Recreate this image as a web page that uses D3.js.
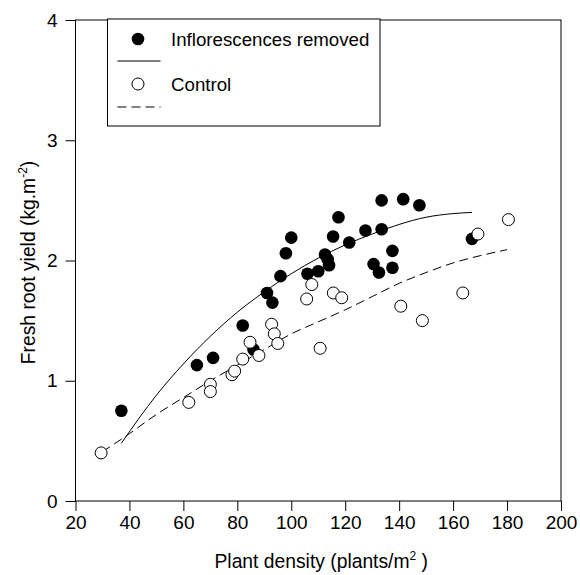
<!DOCTYPE html>
<html>
<head>
<meta charset="utf-8">
<script src="https://cdn.jsdelivr.net/npm/d3@7"></script>
<style>
  body { margin: 0; background: #fff; }
  text { font-family: "Liberation Sans", Arial, sans-serif; fill: #000; }
</style>
</head>
<body>
<div id="chart"></div>
<script>
// data
var xTicks = [20, 40, 60, 80, 100, 120, 140, 160, 180, 200];
var yTicks = [0, 1, 2, 3, 4];

// inflorescences removed (filled dots)
var removedX = [37, 65, 71, 82, 86, 91, 93, 96, 98, 100, 106, 110, 112.5, 113.5, 114,
  115.5, 117.5, 121.5, 127.5, 133.5, 141.5, 147.5, 133.5, 137.5, 130.5, 132.5, 137.5, 167];
var removedY = [0.75, 1.13, 1.19, 1.46, 1.26, 1.73, 1.65, 1.87, 2.06, 2.19, 1.89, 1.91, 2.05, 2.01, 1.96,
  2.20, 2.36, 2.15, 2.25, 2.50, 2.51, 2.46, 2.26, 2.08, 1.97, 1.90, 1.94, 2.18];

// control (open dots)
var controlX = [29.5, 62, 70, 70, 78, 79, 82, 84.7, 88, 92.7, 93.7, 95, 105.7, 107.6,
  110.7, 115.6, 118.7, 140.6, 148.6, 163.6, 169.2, 180.5];
var controlY = [0.40, 0.82, 0.97, 0.91, 1.05, 1.08, 1.18, 1.32, 1.21, 1.47, 1.39, 1.31, 1.68, 1.80,
  1.27, 1.73, 1.69, 1.62, 1.50, 1.73, 2.22, 2.34];

// fitted curves
var fitRemovedX = [37, 50, 60, 70, 80, 90, 100, 110, 120, 130, 140, 150, 160, 167];
var fitRemovedY = [0.48, 0.88, 1.14, 1.37, 1.57, 1.74, 1.89, 2.02, 2.13, 2.22, 2.30, 2.36, 2.39, 2.40];
var fitControlX = [30, 40, 50, 60, 70, 80, 90, 100, 110, 120, 130, 140, 150, 160, 170, 180];
var fitControlY = [0.41, 0.56, 0.72, 0.86, 1.00, 1.13, 1.26, 1.39, 1.49, 1.59, 1.70, 1.81, 1.90, 1.98, 2.04, 2.09];

var svgWidth = 580, svgHeight = 575;
var margin = { top: 20, right: 19, bottom: 74, left: 75.5 };
var width = svgWidth - margin.left - margin.right;
var height = svgHeight - margin.top - margin.bottom;

var svg = d3.select("#chart").append("svg")
  .attr("width", svgWidth)
  .attr("height", svgHeight);

var chartGroup = svg.append("g")
  .attr("transform", `translate(${margin.left}, ${margin.top})`);

var xScale = d3.scaleLinear().domain([20, 200]).range([0, width]);
var yScale = d3.scaleLinear().domain([0, 4]).range([height, 0]);

// frame
chartGroup.append("rect")
  .attr("width", width)
  .attr("height", height)
  .attr("fill", "none")
  .attr("stroke", "#000")
  .attr("stroke-width", 1);

// axes
var xAxis = d3.axisBottom(xScale).tickValues(xTicks).tickFormat(d3.format("d"))
  .tickSize(10).tickPadding(5);
var yAxis = d3.axisLeft(yScale).tickValues(yTicks).tickFormat(d3.format("d"))
  .tickSize(10).tickPadding(8);

var gx = chartGroup.append("g")
  .attr("transform", `translate(0, ${height})`)
  .call(xAxis);
var gy = chartGroup.append("g").call(yAxis);

[gx, gy].forEach(function(g) {
  g.select(".domain").remove();
  g.selectAll("line").attr("stroke", "#000");
  g.selectAll("text")
    .style("font-size", "19px")
    .style("font-family", "Liberation Sans, Arial, sans-serif")
    .attr("fill", "#000");
});

// fitted lines
var line = d3.line()
  .x(d => xScale(d[0]))
  .y(d => yScale(d[1]))
  .curve(d3.curveMonotoneX);

chartGroup.append("path")
  .datum(d3.zip(fitRemovedX, fitRemovedY))
  .attr("d", line)
  .attr("fill", "none")
  .attr("stroke", "#000")
  .attr("stroke-width", 1);

chartGroup.append("path")
  .datum(d3.zip(fitControlX, fitControlY))
  .attr("d", line)
  .attr("fill", "none")
  .attr("stroke", "#000")
  .attr("stroke-width", 1)
  .attr("stroke-dasharray", "9,5");

// points
chartGroup.selectAll("circle.removed")
  .data(d3.zip(removedX, removedY))
  .enter()
  .append("circle")
  .classed("removed", true)
  .attr("cx", d => xScale(d[0]))
  .attr("cy", d => yScale(d[1]))
  .attr("r", 6.3)
  .attr("fill", "#000");

chartGroup.selectAll("circle.control")
  .data(d3.zip(controlX, controlY))
  .enter()
  .append("circle")
  .classed("control", true)
  .attr("cx", d => xScale(d[0]))
  .attr("cy", d => yScale(d[1]))
  .attr("r", 6)
  .attr("fill", "#fff")
  .attr("stroke", "#000")
  .attr("stroke-width", 1);

// legend
var legend = svg.append("g").attr("transform", "translate(107.5, 19)");
legend.append("rect")
  .attr("width", 272.5)
  .attr("height", 107)
  .attr("fill", "#fff")
  .attr("stroke", "#000")
  .attr("stroke-width", 1);

legend.append("circle").attr("cx", 30.5).attr("cy", 20).attr("r", 6.3).attr("fill", "#000");
legend.append("text").attr("x", 63.5).attr("y", 26.5).style("font-size", "18.7px")
  .text("Inflorescences removed");
legend.append("line").attr("x1", 10).attr("x2", 53).attr("y1", 42).attr("y2", 42)
  .attr("stroke", "#000");

legend.append("circle").attr("cx", 30.5).attr("cy", 65).attr("r", 6)
  .attr("fill", "#fff").attr("stroke", "#000");
legend.append("text").attr("x", 63.5).attr("y", 71.5).style("font-size", "18.7px")
  .text("Control");
legend.append("line").attr("x1", 10).attr("x2", 53).attr("y1", 88).attr("y2", 88)
  .attr("stroke", "#000").attr("stroke-dasharray", "9,5");

// x axis title
var xt = svg.append("text")
  .attr("x", margin.left + width / 2 + 3)
  .attr("y", 568)
  .attr("text-anchor", "middle")
  .style("font-size", "19.3px");
xt.append("tspan").text("Plant density (plants/m");
xt.append("tspan").attr("dy", -8).style("font-size", "12px").text("2");
xt.append("tspan").attr("dy", 8).text(" )");

// y axis title
var yt = svg.append("text")
  .attr("transform", `translate(35, ${margin.top + height / 2 + 2}) rotate(-90)`)
  .attr("text-anchor", "middle")
  .style("font-size", "19.3px");
yt.append("tspan").text("Fresh root yield (kg.m");
yt.append("tspan").attr("dy", -8).style("font-size", "12px").text("-2");
yt.append("tspan").attr("dy", 8).text(")");
</script>
</body>
</html>
